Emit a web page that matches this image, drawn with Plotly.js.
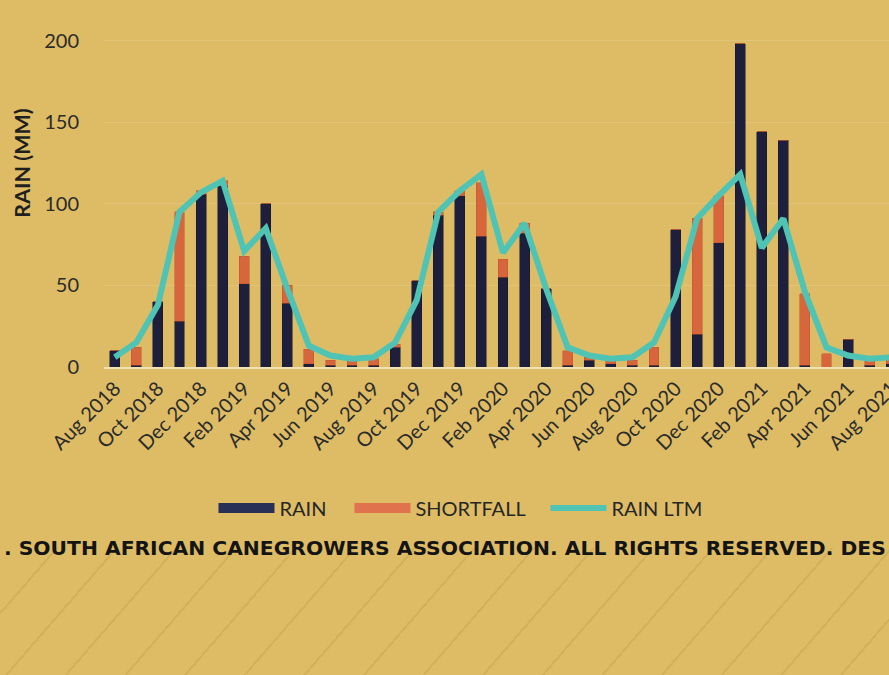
<!DOCTYPE html>
<html><head><meta charset="utf-8">
<script src="https://cdn.plot.ly/plotly-3.0.1.min.js"></script>
<style>
html,body{margin:0;padding:0;width:889px;height:675px;overflow:hidden;background:#DEBC65;}
#stripes{position:absolute;left:0;top:548px;width:889px;height:127px;
background:repeating-linear-gradient(131deg, rgba(0,0,0,0) 0px, rgba(0,0,0,0) 42px, rgba(150,120,45,0.17) 42px, rgba(150,120,45,0.17) 44px, rgba(0,0,0,0) 44px, rgba(0,0,0,0) 45px);}
#chart{position:absolute;left:0;top:-60px;width:960px;height:735px;}
</style></head><body>
<div id="stripes"></div>
<div id="chart"></div>
<script>
const months = ["Aug 2018","Sep 2018","Oct 2018","Nov 2018","Dec 2018","Jan 2019","Feb 2019","Mar 2019","Apr 2019","May 2019","Jun 2019","Jul 2019",
"Aug 2019","Sep 2019","Oct 2019","Nov 2019","Dec 2019","Jan 2020","Feb 2020","Mar 2020","Apr 2020","May 2020","Jun 2020","Jul 2020",
"Aug 2020","Sep 2020","Oct 2020","Nov 2020","Dec 2020","Jan 2021","Feb 2021","Mar 2021","Apr 2021","May 2021","Jun 2021","Jul 2021","Aug 2021"];
const rain = [10,1,40,28,106,111,51,100,39,2,1,1, 1,12,53,93,105,80,55,82,48,1,4,2, 1,1,84,20,76,198,144,139,1,0,17,1,2];
const shortfall = [0,11,0,67,2,3,17,0,11,9,3,3, 4,2,0,2,3,33,11,6,0,9,2,2, 3,11,0,71,29,0,0,0,44,8,0,3,3];
const rainLTM = [6,15,38,95,107,114,71,85,48,13,7,5, 6,15,41,95,108,118,70,88,48,12,7,5, 6,15,43,91,105,118,73,91,46,12,7,5,6];
const tickLabels = ["Aug 2018","Oct 2018","Dec 2018","Feb 2019","Apr 2019","Jun 2019","Aug 2019","Oct 2019","Dec 2019","Feb 2020","Apr 2020","Jun 2020","Aug 2020","Oct 2020","Dec 2020","Feb 2021","Apr 2021","Jun 2021","Aug 2021"];
const yTicks = [0,50,100,150,200];
const seriesNames = ["RAIN","SHORTFALL","RAIN LTM"];

const traces = [
  {type:'bar', name:seriesNames[0], x:months, y:rain, showlegend:false, marker:{color:'#1E1F3D', line:{color:'#15152b', width:0.5}}},
  {type:'bar', name:seriesNames[1], x:months, y:shortfall, showlegend:false, marker:{color:'#D8663C', line:{color:'#b9532e', width:0.5}}},
  {type:'scatter', mode:'lines', name:seriesNames[2], x:months, y:rainLTM, showlegend:false, line:{color:'#4FC4B5', width:6}},
  // legend keys (no data drawn)
  {type:'scatter', mode:'lines', name:seriesNames[0], legend:'legend', x:[null], y:[null], line:{color:'#283058', width:12}},
  {type:'scatter', mode:'lines', name:seriesNames[1], legend:'legend2', x:[null], y:[null], line:{color:'#E0734E', width:12}},
  {type:'scatter', mode:'lines', name:seriesNames[2], legend:'legend3', x:[null], y:[null], line:{color:'#4FC4B5', width:6}}
];

function legendAt(px){
  return {orientation:'h', x:px, xanchor:'left', y:-0.3456, yanchor:'middle',
          font:{size:20, color:'#262626'}, itemwidth:56, bgcolor:'rgba(0,0,0,0)'};
}

const layout = {
  width:960, height:735,
  margin:{l:104, r:58, t:19, b:308},
  paper_bgcolor:'rgba(0,0,0,0)', plot_bgcolor:'rgba(0,0,0,0)',
  barmode:'stack', bargap:0.54,
  font:{family:'Lato, "Open Sans", sans-serif', color:'#2b2b2b'},
  showlegend:true,
  legend:legendAt(0.1372),
  legend2:legendAt(0.3076),
  legend3:legendAt(0.5532),
  xaxis:{type:'category', range:[-0.5, 36.5], tickmode:'array', tickvals:tickLabels, ticktext:tickLabels,
         tickangle:-45, tickfont:{size:20, color:'#2b2b2b'}, showgrid:false, zeroline:false,
         showline:true, linecolor:'#F1E2B6', linewidth:2, ticks:'', fixedrange:true},
  yaxis:{range:[0,250], tickmode:'array', tickvals:yTicks, tickfont:{size:20, color:'#2b2b2b'},
         showgrid:true, gridcolor:'rgba(255,255,255,0.13)', gridwidth:1, zeroline:false,
         ticks:'outside', ticklen:20, tickcolor:'rgba(0,0,0,0)', showline:false,
         title:{text:'RAIN (MM)', font:{size:21.5, weight:700, color:'#1f1f1f'}, standoff:7}},
  annotations:[
    {xref:'paper', yref:'paper', x:-0.128, y:-0.4436, xanchor:'left', yanchor:'middle', showarrow:false,
     text:'. SOUTH AFRICAN CANEGROWERS ASSOCIATION. ALL RIGHTS RESERVED. DES',
     font:{family:'"DejaVu Sans", sans-serif', size:20.3, weight:700, color:'#141414'}}
  ]
};
Plotly.newPlot('chart', traces, layout, {staticPlot:true, displayModeBar:false});
</script></body></html>
